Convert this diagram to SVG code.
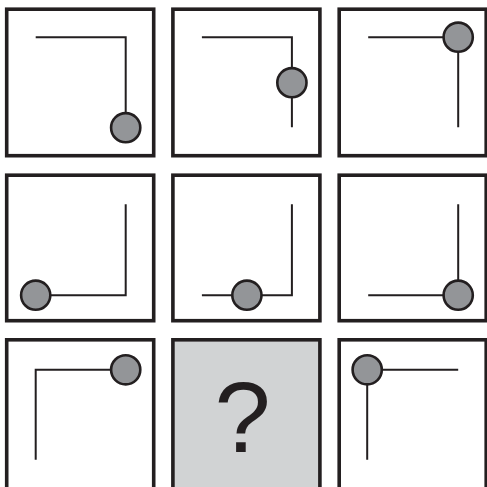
<svg xmlns="http://www.w3.org/2000/svg" width="487" height="487" viewBox="0 0 487 487">
<style>
.box{fill:#ffffff;stroke:#231f20;stroke-width:3.6}
.q{fill:#d1d3d4}
.ln{fill:none;stroke:#231f20;stroke-width:2}
.dot{fill:#939598;stroke:#231f20;stroke-width:2.6}
.qm{font-family:"Liberation Sans",Arial,sans-serif;font-size:101px;fill:#231f20;text-anchor:middle}
</style>
<rect width="487" height="487" fill="#ffffff"/>
<g id="cell1" transform="translate(6.7,9.2)">
<rect class="box" x="0" y="0" width="147" height="146.5"/>
<path class="ln" d="M29,28 H119 V118"/>
<circle class="dot" cx="119" cy="118.5" r="14.6"/>
</g>
<g id="cell2" transform="translate(172.9,9.2)">
<rect class="box" x="0" y="0" width="147" height="146.5"/>
<path class="ln" d="M29,28 H119 V118"/>
<circle class="dot" cx="119" cy="73.5" r="14.6"/>
</g>
<g id="cell3" transform="translate(339.2,9.2)">
<rect class="box" x="0" y="0" width="147" height="146.5"/>
<path class="ln" d="M29,28 H119 V118"/>
<circle class="dot" cx="119" cy="28" r="14.6"/>
</g>
<g id="cell4" transform="translate(6.7,175.2)">
<rect class="box" x="0" y="0" width="147" height="145.5"/>
<path class="ln" d="M29,120 H119 V29"/>
<circle class="dot" cx="29" cy="120" r="14.6"/>
</g>
<g id="cell5" transform="translate(172.9,175.2)">
<rect class="box" x="0" y="0" width="147" height="145.5"/>
<path class="ln" d="M29,120 H119 V29"/>
<circle class="dot" cx="74" cy="120" r="14.6"/>
</g>
<g id="cell6" transform="translate(339.2,175.2)">
<rect class="box" x="0" y="0" width="147" height="145.5"/>
<path class="ln" d="M29,120 H119 V29"/>
<circle class="dot" cx="119" cy="120" r="14.6"/>
</g>
<g id="cell7" transform="translate(6.7,339.8)">
<rect class="box" x="0" y="0" width="147" height="160"/>
<path class="ln" d="M29,120 V30 H119"/>
<circle class="dot" cx="119" cy="30" r="14.6"/>
</g>
<g id="cell8" transform="translate(172.9,339.8)">
<rect class="box q" x="0" y="0" width="147" height="160"/>
<text class="qm" x="69.6" y="112">?</text>
</g>
<g id="cell9" transform="translate(339.2,339.8)">
<rect class="box" x="0" y="0" width="147" height="160"/>
<path class="ln" d="M28,120 V30 H119"/>
<circle class="dot" cx="28" cy="30" r="14.6"/>
</g>
<g id="connectors"></g>
</svg>
